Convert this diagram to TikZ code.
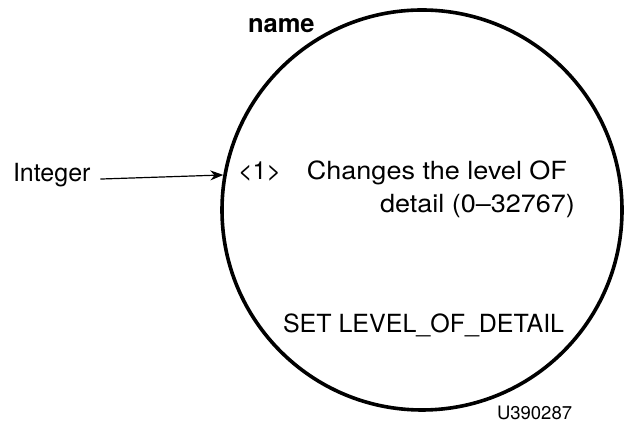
\documentclass[tikz,border=0pt]{standalone}
\usepackage{fontspec}
\setmainfont{TeX Gyre Heros}
\usetikzlibrary{arrows.meta}
\begin{document}
\begin{tikzpicture}[x=1pt, y=1pt,
    txt/.style={inner sep=0pt, outer sep=0pt, font=\fontsize{25}{30}\selectfont},
    wide/.style={txt, font=\fontsize{25}{30}\selectfont\addfontfeature{FakeStretch=1.08}},
    ring/.style={draw, circle, line width=3.6pt, minimum size=400pt, inner sep=0pt}]
    \useasboundingbox (0,0) rectangle (626,430);

    \node[ring] (c) at (422,220) {};

    \node[txt, font=\fontsize{25.5}{30}\selectfont\bfseries, anchor=base west] (name) at (248,397) {name};
    \node[txt, anchor=base west] (int) at (13,248) {Integer};
    \draw[line width=1.2pt, -{Stealth[length=13pt,width=10pt]}, shorten <=10pt] (int.mid east) -- (c.170);

    \node[txt, anchor=base west] (num) at (238,250) {<1>};
    \node[wide, anchor=base east] (desc1) at (567,250) {Changes the level OF};
    \node[wide, anchor=base east] (desc2) at (575,217) {detail (0--32767)};

    \node[txt, anchor=base west] (cmd) at (283,97) {SET LEVEL\_OF\_DETAIL};
    \node[txt, font=\fontsize{18.5}{22}\selectfont, anchor=base west] (fig) at (497,10) {U390287};
\end{tikzpicture}
\end{document}
